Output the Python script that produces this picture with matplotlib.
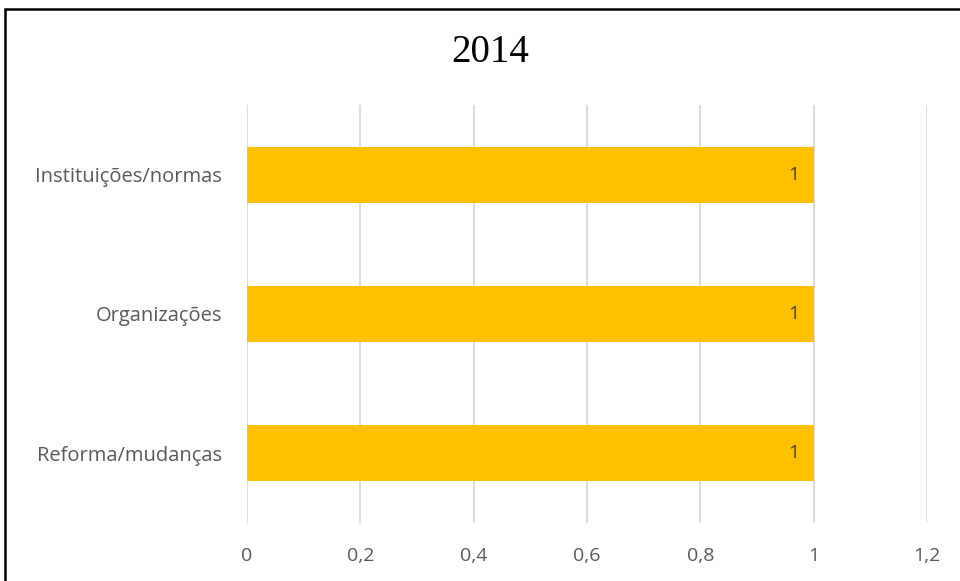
import matplotlib.pyplot as plt
from matplotlib.patches import Rectangle
from matplotlib.ticker import FuncFormatter

categories = ["Instituições/normas", "Organizações", "Reforma/mudanças"]
values = [1, 1, 1]
xticks = [0, 0.2, 0.4, 0.6, 0.8, 1.0, 1.2]

fig = plt.figure(figsize=(9.6, 5.81), dpi=100)
ax = fig.add_axes([247 / 960, 1 - 523 / 581, 680 / 960, 418 / 581])

pos = list(range(len(categories)))
bars = ax.barh(pos, values, height=0.4, color="#FFC000", zorder=3)
ax.set_ylim(2.5, -0.5)
ax.set_xlim(0, 1.2)
ax.set_yticks(pos)
ax.set_yticklabels(categories, family="Open Sans", fontsize=14.5, color="#595959")
ax.set_xticks(xticks)
ax.xaxis.set_major_formatter(FuncFormatter(lambda v, p: f"{v:g}".replace(".", ",")))
for lbl in ax.get_xticklabels():
    lbl.set_family("Open Sans")
    lbl.set_fontsize(14)
    lbl.set_color("#595959")
ax.tick_params(length=0, pad=17)
ax.tick_params(axis="y", pad=18)
ax.grid(axis="x", color="#d9d9d9", linewidth=1.3, zorder=0)
for s in ax.spines.values():
    s.set_visible(False)

for b, v in zip(bars, values):
    ax.text(b.get_width() - 0.025, b.get_y() + b.get_height() / 2, f"{v:g}",
            ha="right", va="center", family="Open Sans", fontsize=14, color="#404040", zorder=4)

fig.text(490 / 960, 1 - 53 / 581, "2014", ha="center", va="center",
         family="Liberation Serif", fontsize=28, color="black")

# outer frame around the chart area
fig.patches.append(Rectangle((5 / 960, -0.1), 1.1, 1 - 9 / 581 + 0.1, transform=fig.transFigure,
                             fill=False, edgecolor="black", linewidth=1.8))

fig.savefig("out.png", dpi=100)
